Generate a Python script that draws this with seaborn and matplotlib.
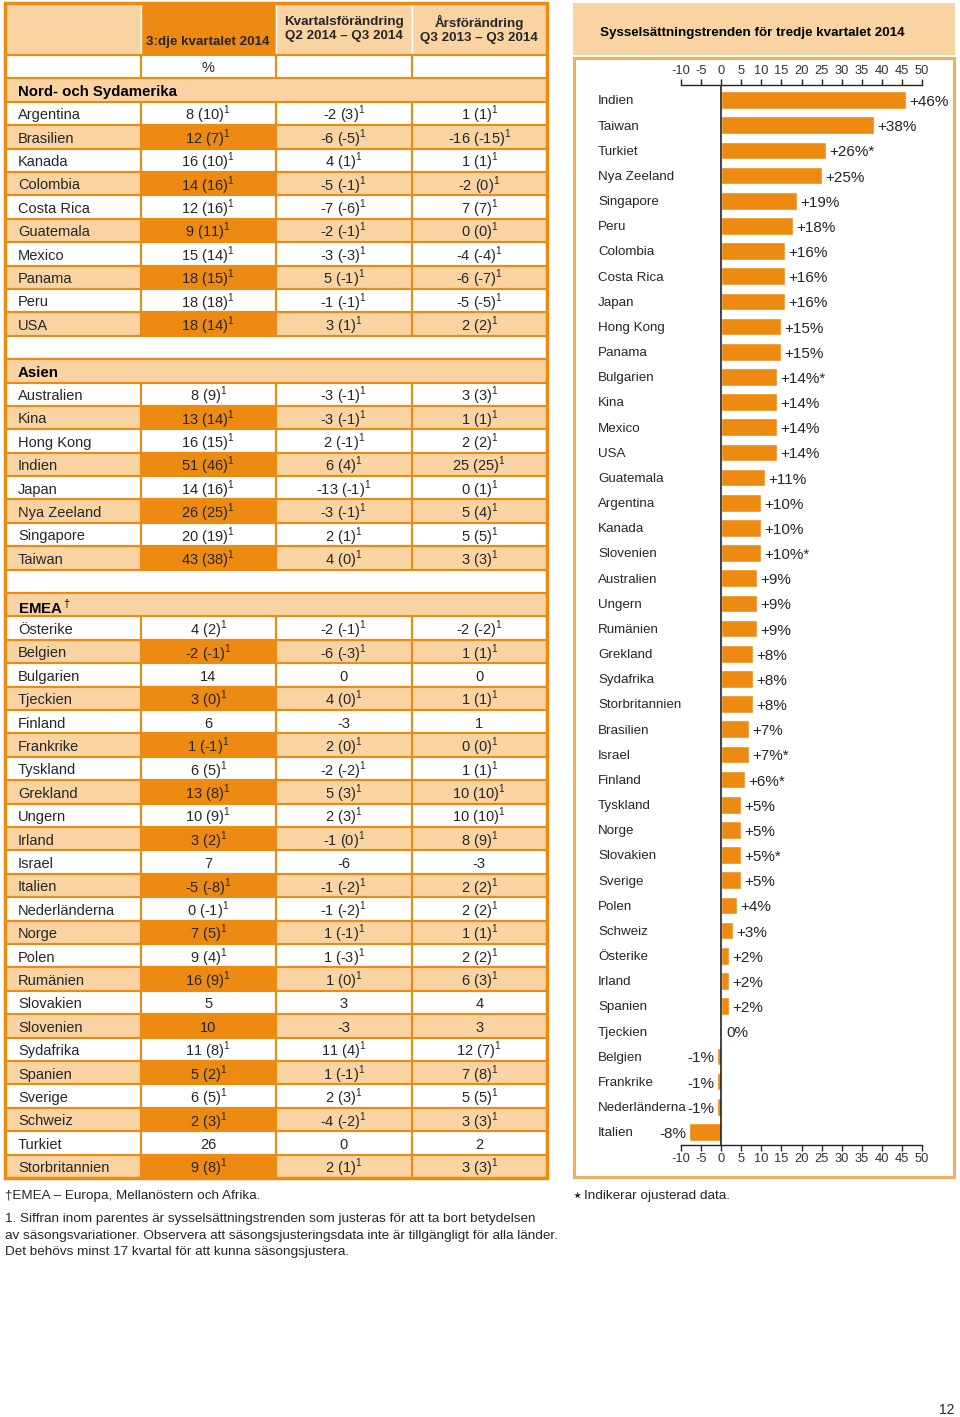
import pandas as pd
import matplotlib
matplotlib.use("Agg")
import matplotlib.pyplot as plt
import matplotlib.transforms as mtransforms
from matplotlib.patches import Rectangle
import seaborn as sns

sns.set_theme(style="white")
plt.rcParams['font.family'] = ['Liberation Sans', 'DejaVu Sans']
plt.rcParams['axes.unicode_minus'] = False
plt.rcParams['mathtext.fontset'] = 'custom'
plt.rcParams['mathtext.rm'] = 'Liberation Sans'
plt.rcParams['mathtext.bf'] = 'Liberation Sans:bold'

ORANGE = "#EC8A12"
LIGHT = "#F9D3A2"
FRAME = "#F1AE5C"
TXT = "#262626"

# ---- table data ----
col_headers = ["3:dje kvartalet 2014",
               "Kvartalsförändring\nQ2 2014 – Q3 2014",
               "Årsförändring\nQ3 2013 – Q3 2014"]

amer_names = ["Argentina", "Brasilien", "Kanada", "Colombia", "Costa Rica",
              "Guatemala", "Mexico", "Panama", "Peru", "USA"]
amer_q3 = ["8 (10)", "12 (7)", "16 (10)", "14 (16)", "12 (16)",
           "9 (11)", "15 (14)", "18 (15)", "18 (18)", "18 (14)"]
amer_qoq = ["-2 (3)", "-6 (-5)", "4 (1)", "-5 (-1)", "-7 (-6)",
            "-2 (-1)", "-3 (-3)", "5 (-1)", "-1 (-1)", "3 (1)"]
amer_yoy = ["1 (1)", "-16 (-15)", "1 (1)", "-2 (0)", "7 (7)",
            "0 (0)", "-4 (-4)", "-6 (-7)", "-5 (-5)", "2 (2)"]

asia_names = ["Australien", "Kina", "Hong Kong", "Indien", "Japan",
              "Nya Zeeland", "Singapore", "Taiwan"]
asia_q3 = ["8 (9)", "13 (14)", "16 (15)", "51 (46)", "14 (16)",
           "26 (25)", "20 (19)", "43 (38)"]
asia_qoq = ["-3 (-1)", "-3 (-1)", "2 (-1)", "6 (4)", "-13 (-1)",
            "-3 (-1)", "2 (1)", "4 (0)"]
asia_yoy = ["3 (3)", "1 (1)", "2 (2)", "25 (25)", "0 (1)",
            "5 (4)", "5 (5)", "3 (3)"]

emea_names = ["Österike", "Belgien", "Bulgarien", "Tjeckien", "Finland",
              "Frankrike", "Tyskland", "Grekland", "Ungern", "Irland",
              "Israel", "Italien", "Nederländerna", "Norge", "Polen",
              "Rumänien", "Slovakien", "Slovenien", "Sydafrika", "Spanien",
              "Sverige", "Schweiz", "Turkiet", "Storbritannien"]
emea_q3 = ["4 (2)", "-2 (-1)", "14", "3 (0)", "6", "1 (-1)", "6 (5)",
           "13 (8)", "10 (9)", "3 (2)", "7", "-5 (-8)", "0 (-1)", "7 (5)",
           "9 (4)", "16 (9)", "5", "10", "11 (8)", "5 (2)", "6 (5)",
           "2 (3)", "26", "9 (8)"]
emea_qoq = ["-2 (-1)", "-6 (-3)", "0", "4 (0)", "-3", "2 (0)", "-2 (-2)",
            "5 (3)", "2 (3)", "-1 (0)", "-6", "-1 (-2)", "-1 (-2)", "1 (-1)",
            "1 (-3)", "1 (0)", "3", "-3", "11 (4)", "1 (-1)", "2 (3)",
            "-4 (-2)", "0", "2 (1)"]
emea_yoy = ["-2 (-2)", "1 (1)", "0", "1 (1)", "1", "0 (0)", "1 (1)",
            "10 (10)", "10 (10)", "8 (9)", "-3", "2 (2)", "2 (2)", "1 (1)",
            "2 (2)", "6 (3)", "4", "3", "12 (7)", "7 (8)", "5 (5)",
            "3 (3)", "2", "3 (3)"]

# ---- bar chart data ----
trend_countries = ["Indien", "Taiwan", "Turkiet", "Nya Zeeland", "Singapore",
                   "Peru", "Colombia", "Costa Rica", "Japan", "Hong Kong",
                   "Panama", "Bulgarien", "Kina", "Mexico", "USA",
                   "Guatemala", "Argentina", "Kanada", "Slovenien",
                   "Australien", "Ungern", "Rumänien", "Grekland",
                   "Sydafrika", "Storbritannien", "Brasilien", "Israel",
                   "Finland", "Tyskland", "Norge", "Slovakien", "Sverige",
                   "Polen", "Schweiz", "Österike", "Irland", "Spanien",
                   "Tjeckien", "Belgien", "Frankrike", "Nederländerna",
                   "Italien"]
trend_values = [46, 38, 26, 25, 19, 18, 16, 16, 16, 15, 15, 14, 14, 14, 14,
                11, 10, 10, 10, 9, 9, 9, 8, 8, 8, 7, 7, 6, 5, 5, 5, 5, 4, 3,
                2, 2, 2, 0, -1, -1, -1, -8]
trend_unadjusted = ["Turkiet", "Bulgarien", "Slovenien", "Israel", "Finland",
                    "Slovakien"]

W, H = 960, 1417
fig = plt.figure(figsize=(W / 100, H / 100), dpi=100)


def px(x0, y0, x1, y1):
    return [x0 / W, 1 - y1 / H, (x1 - x0) / W, (y1 - y0) / H]


def sup(s):
    return s + r"$^{1}$" if "(" in s else s


# ================= table =================
ax_t = fig.add_axes(px(5, 3, 547, 1178))
blocks = [("Nord- och Sydamerika", amer_names, amer_q3, amer_qoq, amer_yoy),
          ("Asien", asia_names, asia_q3, asia_qoq, asia_yoy),
          (r"EMEA$^\dagger$", emea_names, emea_q3, emea_qoq, emea_yoy)]
rows = [("pct",)]
for b, (reg, names, c1, c2, c3) in enumerate(blocks):
    if b > 0:
        rows.append(("blank",))
    rows.append(("region", reg))
    for j, n in enumerate(names):
        rows.append(("data", n, c1[j], c2[j], c3[j], j % 2 == 1))

HH = 2.22
ax_t.set_xlim(0, 4)
ax_t.set_ylim(HH + len(rows), 0)
ax_t.axis("off")

for c in range(4):
    ax_t.add_patch(Rectangle((c, 0), 1, HH, fc=ORANGE if c == 1 else LIGHT,
                             ec="white", lw=1))
ax_t.text(1.5, 1.65, col_headers[0], ha="center", va="center",
          fontsize=9.6, fontweight="bold", color=TXT)
for c in (2, 3):
    ax_t.text(c + 0.5, 1.12, col_headers[c - 1], ha="center", va="center",
              fontsize=9.6, fontweight="bold", color=TXT, linespacing=1.25)

for i, row in enumerate(rows):
    y = HH + i
    kind = row[0]
    if kind == "pct":
        for c in range(4):
            ax_t.add_patch(Rectangle((c, y), 1, 1, fc="white", ec=ORANGE, lw=1.5))
        ax_t.text(1.5, y + 0.55, "%", ha="center", va="center", fontsize=10.5, color=TXT)
    elif kind == "blank":
        ax_t.add_patch(Rectangle((0, y), 4, 1, fc="white", ec=ORANGE, lw=1.5))
    elif kind == "region":
        ax_t.add_patch(Rectangle((0, y), 4, 1, fc=LIGHT, ec=ORANGE, lw=1.5))
        ax_t.text(0.096, y + 0.6, row[1], ha="left", va="center",
                  fontsize=10.8, fontweight="bold", color="black")
    else:
        _, name, v1, v2, v3, shade = row
        for c in range(4):
            fc = (ORANGE if c == 1 else LIGHT) if shade else "white"
            ax_t.add_patch(Rectangle((c, y), 1, 1, fc=fc, ec=ORANGE, lw=1.5))
        ax_t.text(0.096, y + 0.58, name, ha="left", va="center",
                  fontsize=10.5, color=TXT)
        for c, v in zip((1, 2, 3), (v1, v2, v3)):
            ax_t.text(c + 0.5, y + 0.58, sup(v), ha="center", va="center",
                      fontsize=10.5, color=TXT)

ax_t.add_patch(Rectangle((0, 0), 4, HH + len(rows), fill=False, ec=ORANGE,
                         lw=2.5, clip_on=False))

# ================= bar panel =================
fig.patches.append(Rectangle((573 / W, 1 - 55 / H), 382 / W, 52 / H,
                             transform=fig.transFigure, fc=LIGHT, ec="none"))
fig.patches.append(Rectangle((574 / W, 1 - 1177 / H), 380 / W, 1119 / H,
                             transform=fig.transFigure, fill=False, ec=FRAME, lw=2.2))
fig.text(752 / W, 1 - 33 / H, "Sysselsättningstrenden för tredje kvartalet 2014",
         ha="center", va="center", fontsize=9.6, fontweight="bold", color="black")

ax_b = fig.add_axes(px(681, 85, 922, 1145))
df = pd.DataFrame({"land": trend_countries, "trend": trend_values})
sns.barplot(data=df, x="trend", y="land", orient="h", color=ORANGE,
            saturation=1, width=0.7, ax=ax_b)
ax_b.set_xlim(-10, 50)
ax_b.set_ylim(len(trend_countries) - 1 + 0.52, -0.6)
ax_b.set_xticks(range(-10, 55, 5))
ax_b.set_yticks([])
ax_b.set_xlabel("")
ax_b.set_ylabel("")
ax_b.tick_params(axis="x", top=True, labeltop=True, bottom=True, labelbottom=True,
                 direction="out", length=4, width=1, color="#222222",
                 labelsize=9.3, labelcolor="#333333", pad=1.5)
for s in ("left", "right"):
    ax_b.spines[s].set_visible(False)
for s in ("top", "bottom"):
    ax_b.spines[s].set_color("#222222")
    ax_b.spines[s].set_linewidth(1)
ax_b.axvline(0, color="#222222", lw=1.2)

lab_tr = mtransforms.blended_transform_factory(fig.transFigure, ax_b.transData)
for k, (land, v) in enumerate(zip(trend_countries, trend_values)):
    ax_b.text(598 / W, k + 0.05, land, transform=lab_tr, ha="left", va="center",
              fontsize=9.6, color=TXT)
    star = "*" if land in trend_unadjusted else ""
    if v > 0:
        ax_b.text(v + 0.8, k + 0.08, f"+{v}%{star}", ha="left", va="center",
                  fontsize=11, color=TXT)
    elif v == 0:
        ax_b.text(1.3, k + 0.08, f"0%{star}", ha="left", va="center",
                  fontsize=11, color=TXT)
    else:
        ax_b.text(v - 0.6, k + 0.08, f"{v}%{star}", ha="right", va="center",
                  fontsize=11, color=TXT)

# ================= notes =================
fig.text(5 / W, 1 - 1196 / H, "†EMEA – Europa, Mellanöstern och Afrika.",
         ha="left", va="center", fontsize=9.7, color=TXT)
fig.text(5 / W, 1 - 1213 / H,
         "1. Siffran inom parentes är sysselsättningstrenden som justeras för att ta bort betydelsen\n"
         "av säsongsvariationer. Observera att säsongsjusteringsdata inte är tillgängligt för alla länder.\n"
         "Det behövs minst 17 kvartal för att kunna säsongsjustera.",
         ha="left", va="top", fontsize=9.7, color=TXT, linespacing=1.5)
fig.text(572 / W, 1 - 1196 / H, "⋆", ha="left", va="center", fontsize=13,
         color=TXT, family=["DejaVu Sans"])
fig.text(584 / W, 1 - 1196 / H, "Indikerar ojusterad data.",
         ha="left", va="center", fontsize=9.7, color=TXT)
fig.text(955 / W, 1 - 1410 / H, "12", ha="right", va="center",
         fontsize=10, color=TXT)

fig.savefig("out.png", dpi=100)
